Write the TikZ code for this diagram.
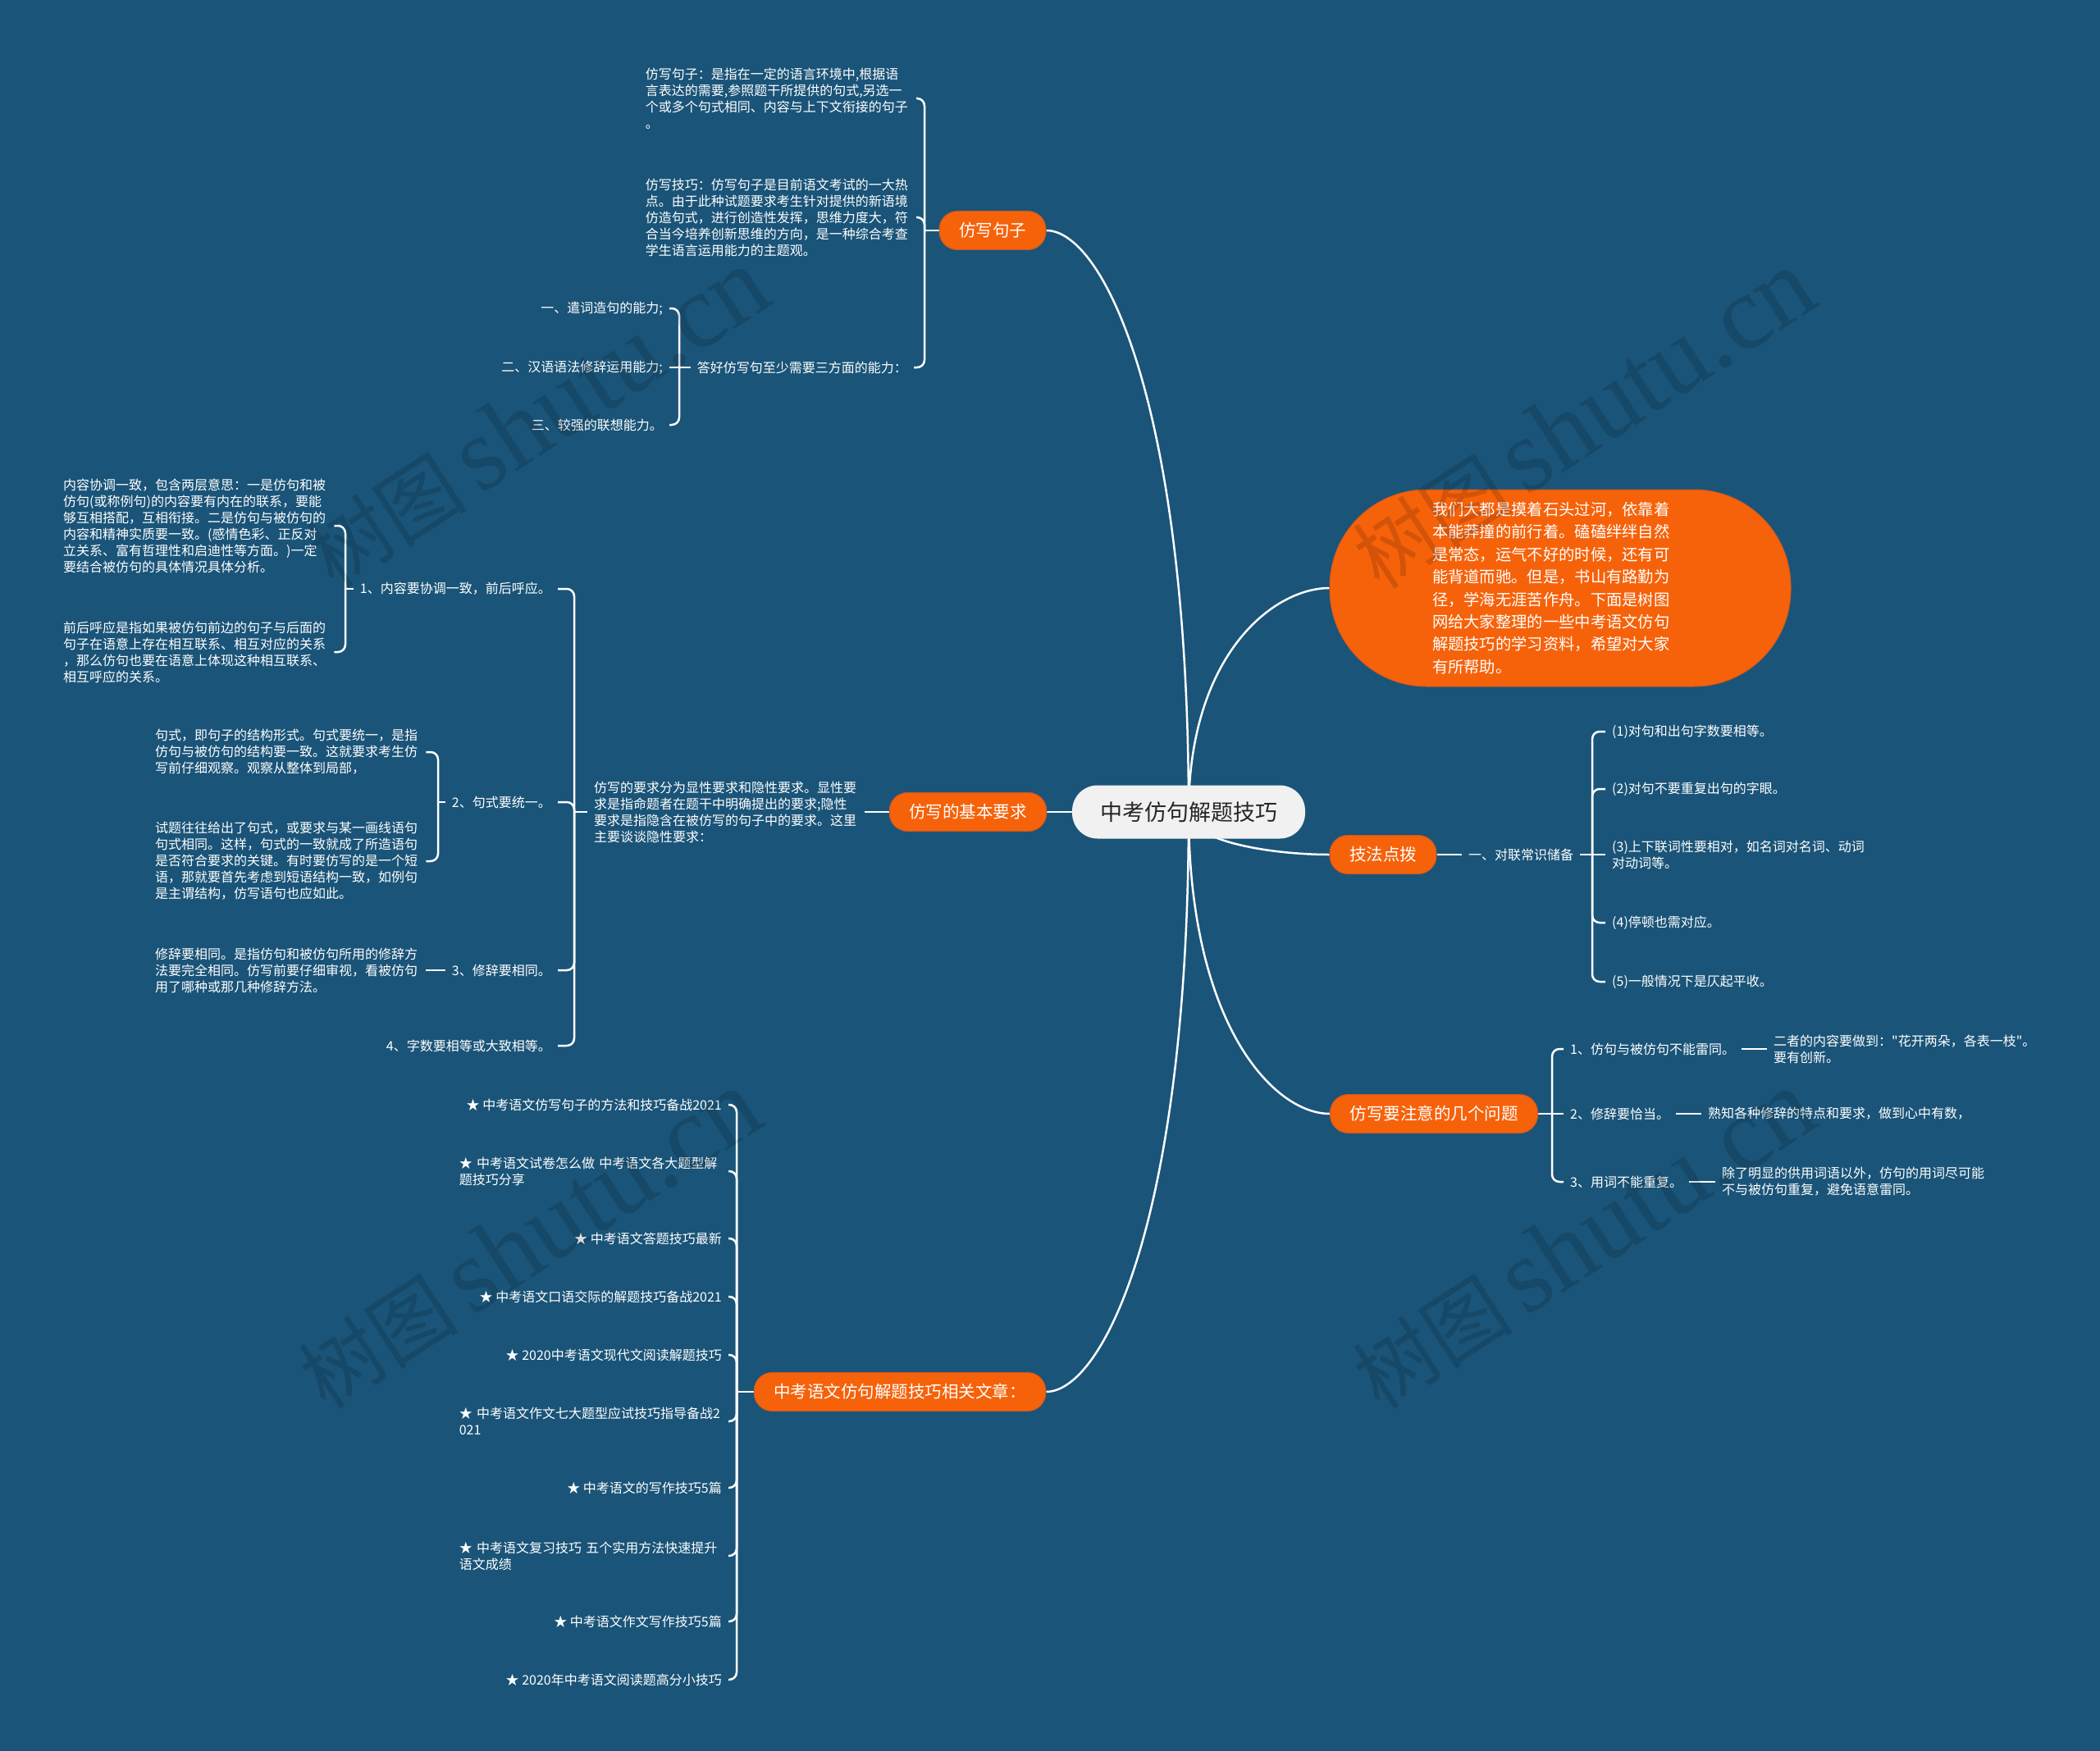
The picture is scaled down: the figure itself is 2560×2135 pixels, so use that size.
\documentclass[tikz,border=0pt]{standalone}
\usepackage{fontspec}
\newfontfamily\cjk{Noto Sans CJK SC}
\newfontfamily\wmserif{Liberation Serif}
\usetikzlibrary{calc}
\definecolor{bgc}{RGB}{26,84,120}
\definecolor{org}{RGB}{246,98,10}
\definecolor{orgedge}{RGB}{200,88,36}
\definecolor{cfill}{RGB}{241,241,241}
\definecolor{ctext}{RGB}{38,38,38}
\pgfdeclarelayer{bg}
\pgfdeclarelayer{lines}
\pgfsetlayers{bg,lines,main}
\newcommand\mmcurve[2]{\draw[conn] (#1) .. controls ($(#1)!0.7!(#1|-#2)$) and ($(#1|-#2)!0.6!(#2)$) .. (#2);}
\newcommand\wmtext{{\cjk\fontsize{98}{100}\selectfont 树图}\hspace{16pt}{\wmserif\fontsize{128}{130}\selectfont shutu.cn}}
\tikzset{
  conn/.style={draw=white, line width=2.5pt},
  br/.style={conn, rounded corners=9pt},
  txt/.style={text=white, font=\cjk\fontsize{16}{20}\selectfont, align=left, inner xsep=8pt, inner ysep=2pt},
  blk/.style={txt, text width=322pt},
  mainbox/.style={fill=org, draw=orgedge, line width=1pt, text=white, rounded corners=22pt, minimum height=47pt, inner xsep=24pt, font=\cjk\fontsize{20.5}{24}\selectfont},
  centerbox/.style={fill=cfill, text=ctext, rounded corners=31pt, minimum height=65pt, inner xsep=34pt, font=\cjk\fontsize{27}{32}\selectfont},
  bubble/.style={fill=org, draw=orgedge, line width=1pt, rounded corners=118pt, minimum width=562pt, minimum height=240pt, text width=312pt, align=left, text=white, inner sep=0pt, font=\cjk\fontsize{19.3}{27.4}\selectfont},
  wm/.style={text=black, text opacity=0.14, rotate=33, inner sep=0pt}
}
\begin{document}
\begin{tikzpicture}[x=1pt,y=-1pt]
\begin{pgfonlayer}{bg}
\fill[bgc] (0,0) rectangle (2560,2135);
\end{pgfonlayer}
\useasboundingbox (0,0) rectangle (2560,2135);

% centre and main branches
\node[centerbox] (c) at (1449,990) {中考仿句解题技巧};
\node[mainbox] (fs) at (1210,281) {仿写句子};
\node[mainbox] (jb) at (1180,990) {仿写的基本要求};
\node[bubble] (bub) at (1902,717) {我们大都是摸着石头过河，依靠着\\本能莽撞的前行着。磕磕绊绊自然\\是常态，运气不好的时候，还有可\\能背道而驰。但是，书山有路勤为\\径，学海无涯苦作舟。下面是树图\\网给大家整理的一些中考语文仿句\\解题技巧的学习资料，希望对大家\\有所帮助。};
\node[mainbox] (jf) at (1686,1042) {技法点拨};
\node[mainbox] (zy) at (1748,1358) {仿写要注意的几个问题};
\node[mainbox] (xg) at (1097,1697) {中考语文仿句解题技巧相关文章：};

% 仿写句子
\coordinate (b1) at (1127,281);
\node[blk, anchor=east] (t1) at (1117,120) {仿写句子：是指在一定的语言环境中,根据语\\言表达的需要,参照题干所提供的句式,另选一\\个或多个句式相同、内容与上下文衔接的句子\\。};
\node[blk, anchor=east] (t2) at (1117,265) {仿写技巧：仿写句子是目前语文考试的一大热\\点。由于此种试题要求考生针对提供的新语境\\仿造句式，进行创造性发挥，思维力度大，符\\合当今培养创新思维的方向，是一种综合考查\\学生语言运用能力的主题观。};
\node[txt, anchor=east] (dh) at (1114,448) {答好仿写句至少需要三方面的能力：};
\coordinate (b2) at (828,448);
\node[txt, anchor=east] (a1) at (816,376) {一、遣词造句的能力;};
\node[txt, anchor=east] (a2) at (816,448) {二、汉语语法修辞运用能力;};
\node[txt, anchor=east] (a3) at (816,518) {三、较强的联想能力。};

% 仿写的基本要求
\node[blk, anchor=west] (rq) at (716,990) {仿写的要求分为显性要求和隐性要求。显性要\\求是指命题者在题干中明确提出的要求;隐性\\要求是指隐含在被仿写的句子中的要求。这里\\主要谈谈隐性要求：};
\coordinate (b3) at (700,990);
\node[txt, anchor=east] (c1) at (680,718) {1、内容要协调一致，前后呼应。};
\node[txt, anchor=east] (c2) at (680,978) {2、句式要统一。};
\node[txt, anchor=east] (c3) at (680,1183) {3、修辞要相同。};
\node[txt, anchor=east] (c4) at (680,1275) {4、字数要相等或大致相等。};
\coordinate (b4) at (421,718);
\node[blk, anchor=west] (ta) at (69,641) {内容协调一致，包含两层意思：一是仿句和被\\仿句(或称例句)的内容要有内在的联系，要能\\够互相搭配，互相衔接。二是仿句与被仿句的\\内容和精神实质要一致。(感情色彩、正反对\\立关系、富有哲理性和启迪性等方面。)一定\\要结合被仿句的具体情况具体分析。};
\node[blk, anchor=west] (tb) at (69,795) {前后呼应是指如果被仿句前边的句子与后面的\\句子在语意上存在相互联系、相互对应的关系\\，那么仿句也要在语意上体现这种相互联系、\\相互呼应的关系。};
\coordinate (b5) at (534,978);
\node[blk, anchor=west] (tc) at (181,917) {句式，即句子的结构形式。句式要统一，是指\\仿句与被仿句的结构要一致。这就要求考生仿\\写前仔细观察。观察从整体到局部，};
\node[blk, anchor=west] (td) at (181,1050) {试题往往给出了句式，或要求与某一画线语句\\句式相同。这样，句式的一致就成了所造语句\\是否符合要求的关键。有时要仿写的是一个短\\语，那就要首先考虑到短语结构一致，如例句\\是主谓结构，仿写语句也应如此。};
\node[blk, anchor=west] (te) at (181,1183) {修辞要相同。是指仿句和被仿句所用的修辞方\\法要完全相同。仿写前要仔细审视，看被仿句\\用了哪种或那几种修辞方法。};

% 技法点拨
\node[txt, anchor=west] (dl) at (1782,1042) {一、对联常识储备};
\coordinate (b6) at (1941,1042);
\node[txt, anchor=west] (k1) at (1957,892) {(1)对句和出句字数要相等。};
\node[txt, anchor=west] (k2) at (1957,962) {(2)对句不要重复出句的字眼。};
\node[txt, anchor=west] (k3) at (1957,1042) {(3)上下联词性要相对，如名词对名词、动词\\对动词等。};
\node[txt, anchor=west] (k4) at (1957,1125) {(4)停顿也需对应。};
\node[txt, anchor=west] (k5) at (1957,1197) {(5)一般情况下是仄起平收。};

% 仿写要注意的几个问题
\coordinate (b7) at (1892,1358);
\node[txt, anchor=west] (z1) at (1906,1279) {1、仿句与被仿句不能雷同。};
\node[txt, anchor=west] (z2) at (1906,1358) {2、修辞要恰当。};
\node[txt, anchor=west] (z3) at (1906,1441) {3、用词不能重复。};
\node[txt, anchor=west] (z1d) at (2154,1279) {二者的内容要做到："花开两朵，各表一枝"。\\要有创新。};
\node[txt, anchor=west] (z2d) at (2074,1358) {熟知各种修辞的特点和要求，做到心中有数，};
\node[txt, anchor=west] (z3d) at (2091,1441) {除了明显的供用词语以外，仿句的用词尽可能\\不与被仿句重复，避免语意雷同。};

% 相关文章
\coordinate (b8) at (898,1697);
\node[txt, anchor=east] (i1) at (888,1347) {★ 中考语文仿写句子的方法和技巧备战2021};
\node[txt, anchor=east, text width=320pt] (i2) at (888,1428) {★ 中考语文试卷怎么做 中考语文各大题型解\\题技巧分享};
\node[txt, anchor=east] (i3) at (888,1510) {★ 中考语文答题技巧最新};
\node[txt, anchor=east] (i4) at (888,1581) {★ 中考语文口语交际的解题技巧备战2021};
\node[txt, anchor=east] (i5) at (888,1652) {★ 2020中考语文现代文阅读解题技巧};
\node[txt, anchor=east, text width=320pt] (i6) at (888,1733) {★ 中考语文作文七大题型应试技巧指导备战2\\021};
\node[txt, anchor=east] (i7) at (888,1814) {★ 中考语文的写作技巧5篇};
\node[txt, anchor=east, text width=320pt] (i8) at (888,1897) {★ 中考语文复习技巧 五个实用方法快速提升\\语文成绩};
\node[txt, anchor=east] (i9) at (888,1977) {★ 中考语文作文写作技巧5篇};
\node[txt, anchor=east] (i10) at (888,2048) {★ 2020年中考语文阅读题高分小技巧};

\begin{pgfonlayer}{lines}
\mmcurve{c.center}{fs.east}
\mmcurve{c.center}{bub.west}
\mmcurve{c.center}{jf.west}
\mmcurve{c.center}{zy.west}
\mmcurve{c.center}{xg.east}
\draw[conn] (c.center) -- (jb.east);
% 仿写句子
\draw[conn] (fs.west) -- (b1);
\draw[br] (b1) |- (t1.east);
\draw[br] (b1) |- (t2.east);
\draw[br] (b1) |- (dh.east);
\draw[conn] (dh.west) -- (b2);
\draw[br] (b2) |- (a1.east);
\draw[conn] (b2) -- (a2.east);
\draw[br] (b2) |- (a3.east);
% 基本要求
\draw[conn] (jb.west) -- (rq.east);
\draw[conn] (rq.west) -- (b3);
\draw[br] (b3) |- (c1.east);
\draw[br] (b3) |- (c2.east);
\draw[br] (b3) |- (c3.east);
\draw[br] (b3) |- (c4.east);
\draw[conn] (c1.west) -- (b4);
\draw[br] (b4) |- (ta.east);
\draw[br] (b4) |- (tb.east);
\draw[conn] (c2.west) -- (b5);
\draw[br] (b5) |- (tc.east);
\draw[br] (b5) |- (td.east);
\draw[conn] (c3.west) -- (te.east);
% 技法点拨
\draw[conn] (jf.east) -- (dl.west);
\draw[conn] (dl.east) -- (b6);
\draw[br] (b6) |- (k1.west);
\draw[br] (b6) |- (k2.west);
\draw[conn] (b6) -- (k3.west);
\draw[br] (b6) |- (k4.west);
\draw[br] (b6) |- (k5.west);
% 注意
\draw[conn] (zy.east) -- (b7);
\draw[br] (b7) |- (z1.west);
\draw[conn] (b7) -- (z2.west);
\draw[br] (b7) |- (z3.west);
\draw[conn] (z1.east) -- (z1d.west);
\draw[conn] (z2.east) -- (z2d.west);
\draw[conn] (z3.east) -- (z3d.west);
% 相关文章
\draw[conn] (xg.west) -- (b8);
\foreach \i in {i1,i2,i3,i4,i5,i6,i7,i8,i9,i10} {\draw[br] (b8) |- (\i.east);}
\end{pgfonlayer}

% watermarks
\node[wm] (w1) at (655,510) {\wmtext};
\node[wm] (w2) at (1930,512) {\wmtext};
\node[wm] (w3) at (645,1512) {\wmtext};
\node[wm] (w4) at (1930,1512) {\wmtext};
\end{tikzpicture}
\end{document}
